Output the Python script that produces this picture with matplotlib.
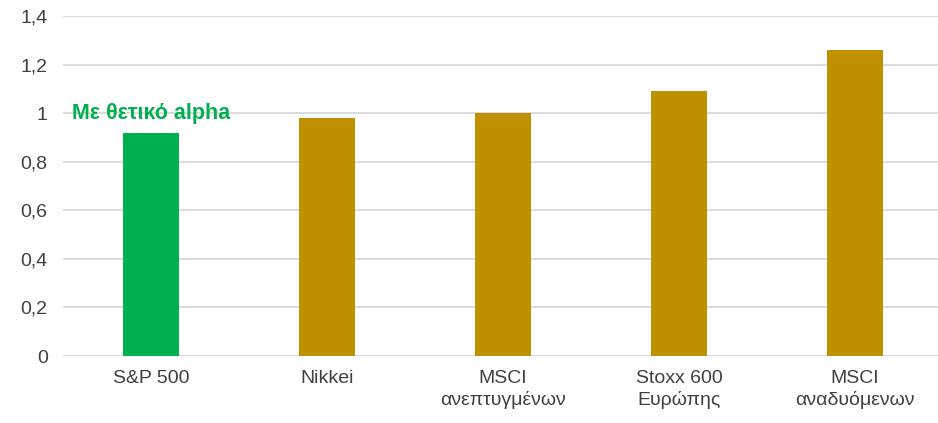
import matplotlib
matplotlib.use("Agg")
import matplotlib.pyplot as plt
from matplotlib import font_manager

categories = ["S&P 500", "Nikkei", "MSCI\nανεπτυγμένων", "Stoxx 600\nΕυρώπης", "MSCI\nαναδυόμενων"]
values = [0.92, 0.98, 1.00, 1.09, 1.26]
bar_colors = ["#00B050", "#BF9000", "#BF9000", "#BF9000", "#BF9000"]
yticks = [0, 0.2, 0.4, 0.6, 0.8, 1.0, 1.2, 1.4]
ytick_labels = ["0", "0,2", "0,4", "0,6", "0,8", "1", "1,2", "1,4"]
note_text = "Με θετικό alpha"
note_value = 1.0

names = {f.name for f in font_manager.fontManager.ttflist}
family = ["Liberation Sans Narrow", "Liberation Sans", "DejaVu Sans"]
family = [f for f in family if f in names] or ["DejaVu Sans"]
plt.rcParams["font.family"] = family

fig = plt.figure(figsize=(9.38, 4.23), dpi=100)
ax = fig.add_axes([63 / 938, 67 / 423, 880 / 938, 340 / 423])

x = list(range(len(categories)))
ax.bar(x, values, width=0.318, color=bar_colors, zorder=3)

ax.set_ylim(0, 1.4)
ax.set_xlim(-0.5, 4.5)
ax.set_yticks(yticks)
ax.set_yticklabels(ytick_labels)
ax.set_xticks(x)
ax.set_xticklabels(categories, linespacing=1.3)

ax.grid(axis="y", color="#D9D9D9", linewidth=1.3, zorder=0)
for s in ax.spines.values():
    s.set_visible(False)
ax.tick_params(axis="both", length=0, labelsize=14, labelcolor="#404040")
ax.tick_params(axis="y", pad=11)
ax.tick_params(axis="x", pad=10)

ax.text(0, note_value, note_text, ha="center", va="center", fontsize=15.5,
        fontweight="bold", color="#00B050", zorder=4)

fig.savefig("out.png", dpi=100)
